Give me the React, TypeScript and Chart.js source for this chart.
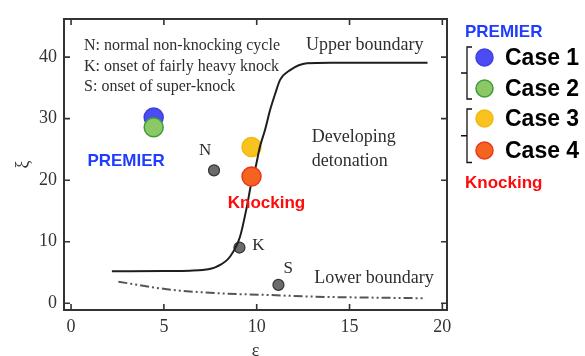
import React, { useEffect, useRef } from "react";
import { Chart, registerables } from "chart.js";
Chart.register(...registerables);

// Upper boundary curve (epsilon, xi)
const upperEps = [2.2, 5.0, 6.4, 7.1, 7.85, 8.57, 9.1, 9.47, 9.74, 9.91, 10.18, 10.45, 10.72, 11.0, 11.26, 11.8, 12.7, 14.0, 19.2];
const upperXi = [5.2, 5.25, 5.3, 5.4, 5.95, 7.6, 10.8, 15.7, 20.0, 21.7, 25.5, 28.2, 31.4, 34.1, 36.3, 37.9, 39.0, 39.1, 39.1];

// Lower boundary curve
const lowerEps = [2.55, 5.16, 7.85, 10.54, 13.06, 16.0, 19.1];
const lowerXi = [3.5, 2.28, 1.63, 1.35, 1.07, 0.92, 0.81];

// Reference cycles N, K, S
const markerLabels = ["N", "K", "S"];
const markerEps = [7.7, 9.07, 11.17];
const markerXi = [21.6, 9.05, 2.98];

// Cases
const caseNames = ["Case 1", "Case 2", "Case 3", "Case 4"];
const caseEps = [4.45, 4.45, 9.72, 9.72];
const caseXi = [30.2, 28.6, 25.4, 20.6];
const caseFill = ["#4b4cf2", "#8cc865", "#f8c31e", "#f4631f"];
const caseBorder = ["#3d3fe6", "#3c9c3c", "#f4b70f", "#e8381a"];

const xTickValues = [0, 5, 10, 15, 20];
const yTickValues = [0, 10, 20, 30, 40];

const noteLines = [
  "N: normal non-knocking cycle",
  "K: onset of fairly heavy knock",
  "S: onset of super-knock",
];

const SERIF = "'Liberation Serif', 'Times New Roman', serif";
const SANS = "'Liberation Sans', Arial, sans-serif";
const TEXT = "#2e2e2e";

const drawPlugin = {
  id: "customDraw",
  beforeDraw(chart: any) {
    const { ctx, width, height } = chart;
    ctx.save();
    ctx.fillStyle = "#ffffff";
    ctx.fillRect(0, 0, width, height);
    ctx.restore();
  },
  afterDraw(chart: any) {
    const { ctx, chartArea: a } = chart;
    const xs = chart.scales.x;
    const ys = chart.scales.y;
    const px = (v: number) => xs.getPixelForValue(v);
    const py = (v: number) => ys.getPixelForValue(v);
    ctx.save();
    // frame
    ctx.strokeStyle = "#333";
    ctx.lineWidth = 2;
    ctx.strokeRect(a.left, a.top, a.right - a.left, a.bottom - a.top);
    // inward ticks on all four sides
    ctx.lineWidth = 1.6;
    const tl = 6;
    ctx.beginPath();
    for (const v of xTickValues) {
      const x = px(v);
      ctx.moveTo(x, a.bottom);
      ctx.lineTo(x, a.bottom - tl);
      ctx.moveTo(x, a.top);
      ctx.lineTo(x, a.top + tl);
    }
    for (const v of yTickValues) {
      const y = py(v);
      ctx.moveTo(a.left, y);
      ctx.lineTo(a.left + tl, y);
      ctx.moveTo(a.right, y);
      ctx.lineTo(a.right - tl, y);
    }
    ctx.stroke();

    // annotation texts
    ctx.fillStyle = TEXT;
    ctx.textBaseline = "middle";
    ctx.textAlign = "left";
    ctx.font = `16px ${SERIF}`;
    const noteY = [41.84, 38.5, 35.2];
    noteLines.forEach((t, i) => ctx.fillText(t, px(0.7), py(noteY[i])));
    ctx.font = `18px ${SERIF}`;
    ctx.fillText("Upper boundary", px(12.66), py(42.0));
    ctx.fillText("Developing", px(12.97), py(26.9));
    ctx.fillText("detonation", px(12.97), py(23.1));
    ctx.fillText("Lower boundary", px(13.1), py(4.07));
    ctx.font = `17px ${SERIF}`;
    ctx.textAlign = "center";
    const markerLabelPos = [
      [7.22, 24.9],
      [10.09, 9.3],
      [11.7, 5.6],
    ];
    markerLabels.forEach((t, i) => ctx.fillText(t, px(markerLabelPos[i][0]), py(markerLabelPos[i][1])));

    // group labels in the plot
    ctx.textAlign = "left";
    ctx.font = `bold 17px ${SANS}`;
    ctx.fillStyle = "#1f3cff";
    ctx.fillText("PREMIER", px(0.88), py(23.0));
    ctx.fillStyle = "#ff0a0a";
    ctx.fillText("Knocking", px(8.44), py(16.3));

    // right-hand legend
    const lx = a.right;
    ctx.fillStyle = "#1f3cff";
    ctx.fillText("PREMIER", lx + 18, 32.5);
    ctx.fillStyle = "#ff0a0a";
    ctx.fillText("Knocking", lx + 18, 183);
    const rowY = [57.5, 88.5, 118.5, 150.5];
    caseNames.forEach((name, i) => {
      ctx.beginPath();
      ctx.arc(lx + 37.5, rowY[i], 8.5, 0, Math.PI * 2);
      ctx.fillStyle = caseFill[i];
      ctx.fill();
      ctx.lineWidth = 1.5;
      ctx.strokeStyle = caseBorder[i];
      ctx.stroke();
      ctx.fillStyle = "#000";
      ctx.font = `bold 23px ${SANS}`;
      ctx.fillText(name, lx + 58, rowY[i] + 1);
    });
    // brackets
    ctx.strokeStyle = "#111";
    ctx.lineWidth = 1.3;
    const bx = lx + 20;
    const brackets = [
      [47, 99],
      [109, 162.5],
    ];
    brackets.forEach(([t, b]) => {
      const m = (t + b) / 2;
      ctx.beginPath();
      ctx.moveTo(bx + 5, t);
      ctx.lineTo(bx, t);
      ctx.lineTo(bx, b);
      ctx.lineTo(bx + 5, b);
      ctx.moveTo(bx, m);
      ctx.lineTo(bx - 6, m);
      ctx.stroke();
    });
    ctx.restore();
  },
};

export default function App() {
  const ref = useRef<HTMLCanvasElement | null>(null);
  useEffect(() => {
    document.body.style.margin = "0";
    const canvas = ref.current!;
    const chart = new Chart(canvas, {
      type: "scatter",
      data: {
        datasets: [
          {
            label: "Cases 4",
            data: [{ x: caseEps[3], y: caseXi[3] }],
            pointRadius: 9.5,
            pointBackgroundColor: caseFill[3],
            pointBorderColor: caseBorder[3],
            pointBorderWidth: 1.5,
            order: 1,
          } as any,
          {
            label: "Upper boundary",
            data: upperEps.map((x, i) => ({ x, y: upperXi[i] })),
            showLine: true,
            cubicInterpolationMode: "monotone",
            borderColor: "#1e1e1e",
            borderWidth: 2,
            pointRadius: 0,
            order: 2,
          },
          {
            label: "Lower boundary",
            data: lowerEps.map((x, i) => ({ x, y: lowerXi[i] })),
            showLine: true,
            cubicInterpolationMode: "monotone",
            borderColor: "#555",
            borderWidth: 2,
            borderDash: [9, 3, 2, 3, 2, 3],
            pointRadius: 0,
            order: 3,
          },
          {
            label: "Cases",
            data: [0, 1, 2].map((i) => ({ x: caseEps[i], y: caseXi[i] })),
            pointRadius: 9.5,
            pointBackgroundColor: caseFill.slice(0, 3),
            pointBorderColor: caseBorder.slice(0, 3),
            pointBorderWidth: 1.5,
            order: 4,
          },
          {
            label: "Markers",
            data: markerEps.map((x, i) => ({ x, y: markerXi[i] })),
            pointRadius: 5.5,
            pointBackgroundColor: "#6b6b6b",
            pointBorderColor: "#333",
            pointBorderWidth: 1.2,
            order: 5,
          },
        ],
      },
      options: {
        animation: false,
        responsive: false,
        maintainAspectRatio: false,
        layout: { padding: { left: 0, top: 19, right: 138, bottom: 0 } },
        plugins: { legend: { display: false }, tooltip: { enabled: false } },
        scales: {
          x: {
            type: "linear",
            min: -0.38,
            max: 20.25,
            afterFit: (s: any) => {
              s.height = 46;
            },
            afterBuildTicks: (s: any) => {
              s.ticks = xTickValues.map((v) => ({ value: v }));
            },
            grid: { display: false, drawTicks: false, tickLength: 0 },
            border: { display: false },
            ticks: {
              color: "#333",
              padding: 6,
              font: { family: SERIF, size: 18 },
            },
            title: {
              display: true,
              text: "ε",
              color: "#333",
              font: { family: SERIF, size: 18 },
              padding: { top: 0, bottom: -6 },
            },
          },
          y: {
            type: "linear",
            min: -1.1,
            max: 46.2,
            afterFit: (s: any) => {
              s.width = 64;
            },
            afterBuildTicks: (s: any) => {
              s.ticks = yTickValues.map((v) => ({ value: v }));
            },
            grid: { display: false, drawTicks: false, tickLength: 0 },
            border: { display: false },
            ticks: {
              color: "#333",
              padding: 7,
              font: { family: SERIF, size: 18 },
            },
            title: {
              display: true,
              text: "ξ",
              color: "#333",
              font: { family: SERIF, size: 18 },
              padding: { top: 12, bottom: 0 },
            },
          },
        },
      },
      plugins: [drawPlugin],
    });
    return () => chart.destroy();
  }, []);
  return (
    <div style={{ position: "absolute", left: 0, top: 0, width: 585, height: 356 }}>
      <canvas ref={ref} width={585} height={356} style={{ width: 585, height: 356 }} />
    </div>
  );
}
